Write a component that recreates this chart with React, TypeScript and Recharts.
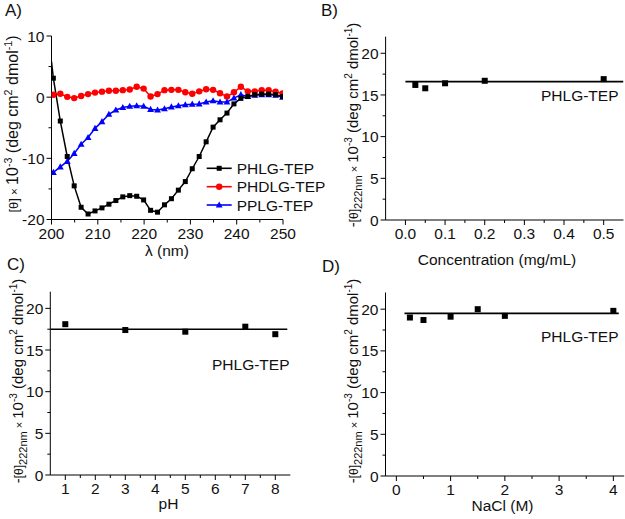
import React from 'react';
import { LineChart, ComposedChart, Line, Scatter, XAxis, YAxis, Legend } from 'recharts';

const FONT = '"Liberation Sans", Arial, Helvetica, sans-serif';
const W = 625;
const H = 519;
const INK = '#111111';

// ---------- Panel A: CD spectra ----------
const wavelength = [
  200.4, 201.9, 203.4, 204.9, 206.4, 207.9, 209.4, 210.9, 212.4, 213.9, 215.4, 216.9,
  218.4, 219.9, 221.4, 222.9, 224.4, 225.9, 227.4, 228.9, 230.4, 231.9, 233.4, 234.9,
  236.4, 237.9, 239.4, 240.9, 242.4, 243.9, 245.4, 246.9, 248.4, 249.9,
];
const phlgTheta = [
  3.1, -3.9, -9.7, -14.5, -18.0, -19.1, -18.6, -18.1, -17.5, -16.9, -16.3, -16.1,
  -16.2, -16.8, -18.5, -18.8, -17.6, -16.6, -15.2, -13.8, -11.7, -9.7, -7.3, -4.9,
  -3.7, -2.6, -1.1, -0.2, 0.1, 0.4, 0.5, 0.5, 0.4, 0.1,
];
const phdlgTheta = [
  0.4, 0.55, 0.05, -0.15, 0.2, 0.5, 0.75, 0.9, 1.05, 1.05, 1.15, 1.25,
  1.7, 1.4, 0.1, 0.5, 1.15, 1.2, 1.2, 0.8, 0.55, 0.95, 1.3, 1.2,
  0.65, 0.1, 0.8, 1.7, 0.95, 0.95, 1.15, 1.15, 0.9, 0.6,
];
const pplgTheta = [
  -12.3, -11.4, -10.5, -9.2, -7.7, -6.6, -5.1, -4.0, -2.8, -2.1, -1.7, -1.5,
  -1.4, -1.5, -2.0, -2.1, -1.9, -1.6, -1.4, -1.25, -1.15, -1.1, -0.8, -0.6,
  -0.8, -0.8, -0.15, 0.4, 0.1, 0.3, 0.4, 0.4, 0.3, 0.0,
];
// PHLG-TEP trace continues above the first symbol up to the axis
const phlgLeadWavelength = 200;
const phlgLeadTheta = 5.8;

const seriesNames = ['PHLG-TEP', 'PHDLG-TEP', 'PPLG-TEP'];
const seriesColors = ['#000000', '#ff0000', '#0000ff'];

const aXTicks = [200, 205, 210, 215, 220, 225, 230, 235, 240, 245, 250];
const aXMajor = [200, 210, 220, 230, 240, 250];
const aYTicks = [-20, -15, -10, -5, 0, 5, 10];
const aYMajor = [-20, -10, 0, 10];

// ---------- Panel B: concentration ----------
const concentration = [0.025, 0.05, 0.1, 0.2, 0.5];
const concTheta = [16.2, 15.8, 16.4, 16.7, 16.9];
const concFit = 16.6;
const concFitRange = [0, 0.55];
const bXTicks = [0, 0.05, 0.1, 0.15, 0.2, 0.25, 0.3, 0.35, 0.4, 0.45, 0.5];
const bXMajor = [0, 0.1, 0.2, 0.3, 0.4, 0.5];

// ---------- Panel C: pH ----------
const phValues = [1, 3, 5, 7, 8];
const phTheta = [18.1, 17.4, 17.2, 17.8, 16.9];
const phFit = 17.5;
const phFitRange = [0.5, 8.4];
const cXTicks = [1, 1.5, 2, 2.5, 3, 3.5, 4, 4.5, 5, 5.5, 6, 6.5, 7, 7.5, 8];
const cXMajor = [1, 2, 3, 4, 5, 6, 7, 8];

// ---------- Panel D: NaCl ----------
const naclValues = [0.25, 0.5, 1, 1.5, 2, 4];
const naclTheta = [19.0, 18.7, 19.1, 20.0, 19.2, 19.8];
const naclFit = 19.5;
const naclFitRange = [0.15, 4.1];
const dXTicks = [0, 0.5, 1, 1.5, 2, 2.5, 3, 3.5, 4];
const dXMajor = [0, 1, 2, 3, 4];

const thetaTicks = [0, 2.5, 5, 7.5, 10, 12.5, 15, 17.5, 20];
const thetaMajor = [0, 5, 10, 15, 20];

// ---------- tables built from the arrays ----------
const rowsA = [
  { w: phlgLeadWavelength, phlg: phlgLeadTheta, lead: true },
  ...wavelength.map((w, i) => ({ w, phlg: phlgTheta[i], phdlg: phdlgTheta[i], pplg: pplgTheta[i], lead: false })),
];
const pts = (xs: number[], ys: number[]) => xs.map((x, i) => ({ x, y: ys[i] }));
const fit = (r: number[], v: number) => [{ x: r[0], y: v }, { x: r[1], y: v }];

// ---------- helpers ----------
const isIn = (arr: number[], v: number) => arr.some((m) => Math.abs(m - v) < 1e-9);

function makeTick(orient: 'x' | 'y', majors: number[], fmt: (v: number) => string, name: string) {
  return (props: any) => {
    const { x, y, payload, index } = props;
    const v = payload.value as number;
    const major = isIn(majors, v);
    const len = major ? 5 : 3;
    if (orient === 'y') {
      return (
        <g key={`${name}-${index}`}>
          <line x1={x - len} x2={x} y1={y} y2={y} stroke="#000" strokeWidth={1} />
          {major && (
            <text x={x - 7} y={y} dy="0.36em" textAnchor="end" fontSize={15.5} fontFamily={FONT} fill={INK}>
              {fmt(v)}
            </text>
          )}
        </g>
      );
    }
    return (
      <g key={`${name}-${index}`}>
        <line x1={x} x2={x} y1={y} y2={y + len} stroke="#000" strokeWidth={1} />
        {major && (
          <text x={x} y={y + 19} textAnchor="middle" fontSize={15.5} fontFamily={FONT} fill={INK}>
            {fmt(v)}
          </text>
        )}
      </g>
    );
  };
}

const intFmt = (v: number) => String(v);
const oneDec = (v: number) => v.toFixed(1);

const squareDot = (size: number, color: string, name: string) => (p: any) => {
  const { cx, cy, index, payload } = p;
  if (cx == null || cy == null || (payload && payload.lead)) return <g key={`${name}-${index}`} />;
  return <rect key={`${name}-${index}`} x={cx - size / 2} y={cy - size / 2} width={size} height={size} fill={color} />;
};
const circleDot = (r: number, color: string, name: string) => (p: any) => {
  const { cx, cy, index } = p;
  if (cx == null || cy == null) return <g key={`${name}-${index}`} />;
  return <circle key={`${name}-${index}`} cx={cx} cy={cy} r={r} fill={color} />;
};
const triDot = (s: number, color: string, name: string) => (p: any) => {
  const { cx, cy, index } = p;
  if (cx == null || cy == null) return <g key={`${name}-${index}`} />;
  return (
    <polygon
      key={`${name}-${index}`}
      points={`${cx},${cy - s} ${cx - s * 0.95},${cy + s * 0.7} ${cx + s * 0.95},${cy + s * 0.7}`}
      fill={color}
    />
  );
};
const squareShape = (p: any) => {
  const { cx, cy } = p;
  return <rect x={cx - 3} y={cy - 3} width={6} height={6} fill="#000" />;
};

function LegendBox() {
  const rowsY = [10.3, 28.7, 47];
  return (
    <svg width={130} height={60} style={{ overflow: 'visible' }}>
      {seriesNames.map((n, i) => {
        const yc = rowsY[i];
        const c = seriesColors[i];
        return (
          <g key={n}>
            <line x1={6.7} x2={31.7} y1={yc} y2={yc} stroke={c} strokeWidth={1.6} />
            {i === 0 && <rect x={19.2 - 2.5} y={yc - 2.5} width={5} height={5} fill={c} />}
            {i === 1 && <circle cx={19.2} cy={yc} r={3.2} fill={c} />}
            {i === 2 && (
              <polygon points={`${19.2},${yc - 3.6} ${19.2 - 3.4},${yc + 2.5} ${19.2 + 3.4},${yc + 2.5}`} fill={c} />
            )}
            <text x={36.7} y={yc + 5.5} fontSize={15.5} fontFamily={FONT} fill={INK}>
              {n}
            </text>
          </g>
        );
      })}
    </svg>
  );
}

function YTitle({ x, y, sub, size }: { x: number; y: number; sub: boolean; size: number }) {
  const s = size / 15;
  return (
    <text x={x} y={y} transform={`rotate(-90 ${x} ${y})`} textAnchor="middle" fontSize={size} fontFamily={FONT} fill={INK}>
      {sub ? '-' : ''}
      <tspan fontSize={12 * s}>[θ]</tspan>
      {sub && (
        <tspan fontSize={11 * s} dy={4 * s}>
          222nm
        </tspan>
      )}
      <tspan fontSize={11 * s} dy={sub ? -4 * s : 0}>
        {' × '}
      </tspan>
      <tspan>10</tspan>
      <tspan fontSize={10 * s} dy={-6 * s}>
        -3
      </tspan>
      <tspan dy={6 * s}> (deg cm</tspan>
      <tspan fontSize={10 * s} dy={-6 * s}>
        2
      </tspan>
      <tspan dy={6 * s}> dmol</tspan>
      <tspan fontSize={10 * s} dy={-6 * s}>
        -1
      </tspan>
      <tspan dy={6 * s}>)</tspan>
    </text>
  );
}

const axisLine = { stroke: '#000', strokeWidth: 1 };
const layer: React.CSSProperties = { position: 'absolute', left: 0, top: 0 };

function FitPanel(props: {
  left: number; right: number; top: number; bottom: number;
  xDomain: number[]; xTicks: number[]; xMajor: number[]; xFmt: (v: number) => string;
  data: { x: number; y: number }[]; fitData: { x: number; y: number }[]; name: string;
}) {
  const { left, right, top, bottom, xDomain, xTicks, xMajor, xFmt, data, fitData, name } = props;
  return (
    <div style={layer}>
      <ComposedChart width={W} height={H} margin={{ top, right: W - right, bottom: 0, left: 0 }}>
        <XAxis
          dataKey="x" type="number" domain={xDomain} ticks={xTicks} interval={0} allowDataOverflow
          height={H - bottom} tickSize={0} tickMargin={0} tickLine={false} axisLine={axisLine}
          tick={makeTick('x', xMajor, xFmt, `${name}x`)}
        />
        <YAxis
          dataKey="y" type="number" domain={[0, 22]} ticks={thetaTicks} interval={0} allowDataOverflow
          width={left} tickSize={0} tickMargin={0} tickLine={false} axisLine={axisLine}
          tick={makeTick('y', thetaMajor, intFmt, `${name}y`)}
        />
        <Line data={fitData} dataKey="y" stroke="#000" strokeWidth={1.6} dot={false} isAnimationActive={false} />
        <Scatter data={data} dataKey="y" fill="#000" shape={squareShape} isAnimationActive={false} />
      </ComposedChart>
    </div>
  );
}

export default function App() {
  return (
    <div style={{ position: 'absolute', left: 0, top: 0, width: W, height: H, background: '#fff', fontFamily: FONT }}>
      {/* Panel A */}
      <div style={layer}>
        <LineChart width={W} height={H} data={rowsA} margin={{ top: 36, right: W - 283, bottom: 0, left: 0 }}>
          <XAxis
            dataKey="w" type="number" domain={[200, 250]} ticks={aXTicks} interval={0} allowDataOverflow
            height={H - 219.5} tickSize={0} tickMargin={0} tickLine={false} axisLine={axisLine}
            tick={makeTick('x', aXMajor, intFmt, 'ax')}
          />
          <YAxis
            type="number" domain={[-20, 10]} ticks={aYTicks} interval={0} allowDataOverflow
            width={51.5} tickSize={0} tickMargin={0} tickLine={false} axisLine={axisLine}
            tick={makeTick('y', aYMajor, intFmt, 'ay')}
          />
          <Line dataKey="phdlg" stroke={seriesColors[1]} strokeWidth={1.5} dot={circleDot(3.2, seriesColors[1], 'r')} isAnimationActive={false} />
          <Line dataKey="pplg" stroke={seriesColors[2]} strokeWidth={1.5} dot={triDot(3.6, seriesColors[2], 'b')} isAnimationActive={false} />
          <Line dataKey="phlg" stroke={seriesColors[0]} strokeWidth={1.5} dot={squareDot(5, seriesColors[0], 'k')} isAnimationActive={false} />
          <Legend
            layout="vertical" align="center" verticalAlign="middle" width={130} height={60}
            wrapperStyle={{ position: 'absolute', left: 200, top: 158, width: 130, height: 60 }}
            content={() => <LegendBox />}
          />
        </LineChart>
      </div>

      <FitPanel left={385.6} right={623.5} top={36.6} bottom={220} xDomain={[-0.05, 0.55]} xTicks={bXTicks} xMajor={bXMajor} xFmt={oneDec}
        data={pts(concentration, concTheta)} fitData={fit(concFitRange, concFit)} name="b" />
      <FitPanel left={50.3} right={290.3} top={291.7} bottom={475} xDomain={[0.5, 8.5]} xTicks={cXTicks} xMajor={cXMajor} xFmt={intFmt}
        data={pts(phValues, phTheta)} fitData={fit(phFitRange, phFit)} name="c" />
      <FitPanel left={385.5} right={624.2} top={292.5} bottom={476} xDomain={[-0.2, 4.2]} xTicks={dXTicks} xMajor={dXMajor} xFmt={intFmt}
        data={pts(naclValues, naclTheta)} fitData={fit(naclFitRange, naclFit)} name="d" />

      {/* titles and annotations */}
      <svg width={W} height={H} style={{ ...layer, pointerEvents: 'none' }}>
        <g fontFamily={FONT} fill={INK}>
          <text x={5} y={16} fontSize={17}>A)</text>
          <text x={321} y={16} fontSize={17}>B)</text>
          <text x={7} y={270} fontSize={17}>C)</text>
          <text x={322} y={272} fontSize={17}>D)</text>

          <text x={167} y={256} fontSize={15.5} textAnchor="middle">λ (nm)</text>
          <text x={497} y={265} fontSize={15.5} textAnchor="middle">Concentration (mg/mL)</text>
          <text x={168.5} y={509} fontSize={15.5} textAnchor="middle">pH</text>
          <text x={502.5} y={511} fontSize={15.5} textAnchor="middle">NaCl (M)</text>

          <text x={541} y={100.5} fontSize={15.5}>PHLG-TEP</text>
          <text x={212} y={369.5} fontSize={15.5}>PHLG-TEP</text>
          <text x={541} y={341.5} fontSize={15.5}>PHLG-TEP</text>
        </g>
        <YTitle x={18} y={124} sub={false} size={16} />
        <YTitle x={358} y={125} sub={true} size={15} />
        <YTitle x={23} y={381} sub={true} size={15} />
        <YTitle x={357.5} y={381} sub={true} size={15} />
      </svg>
    </div>
  );
}
